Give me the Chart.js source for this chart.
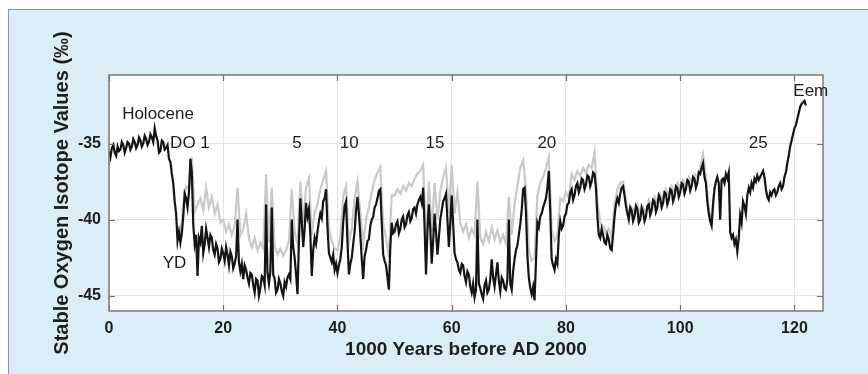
<!DOCTYPE html>
<html>
<head>
<meta charset="utf-8">
<script src="https://cdn.jsdelivr.net/npm/chart.js@4.4.1/dist/chart.umd.min.js"></script>
<style>
  html, body { margin: 0; padding: 0; background: #fff; }
  #wrap { position: relative; width: 868px; height: 374px; overflow: hidden; }
  #panel { position: absolute; left: 8px; top: 9px; width: 880px; height: 380px;
           background: #dbeef8; border-top: 1.5px solid #8d969c; border-left: 1.5px solid #8d969c; }
  #holder { position: absolute; left: 0; top: 0; width: 868px; height: 374px; }
</style>
</head>
<body>
<div id="wrap">
  <div id="panel"></div>
  <div id="holder"><canvas id="chart"></canvas></div>
</div>
<script>
// black record, 0 .. 122 kyr before AD 2000, one value every 0.25 kyr
const blackStart = 0;
const blackStep = 0.25;
const blackValues = [
  // 0 - 10
  -35.5, -35.9, -35.3, -35.1, -35.6, -35.8, -35.2, -35.5, -35.4, -34.9, -35.1, -35.6, -35.3, -34.9, -35.0, -35.4, -35.2, -34.7, -34.9, -35.3,
  -35.1, -34.6, -34.8, -35.2, -35.0, -34.5, -34.7, -35.1, -34.9, -34.4, -34.6, -34.9, -34.0, -34.5, -34.8, -35.6, -35.5, -34.8, -34.9, -35.4,
  // 10 - 20
  -35.3, -35.1, -36.0, -36.2, -37.0, -37.6, -38.8, -39.6, -41.4, -40.8, -41.5, -40.9, -39.8, -38.3, -38.6, -39.2, -38.2, -36.0, -36.9, -40.3,
  -41.6, -41.0, -43.7, -41.2, -41.5, -40.4, -42.2, -41.6, -40.6, -41.2, -41.8, -41.0, -41.2, -42.0, -42.3, -41.6, -41.9, -42.8, -42.6, -41.9,
  // 20 - 30
  -42.2, -42.7, -41.8, -42.3, -43.0, -42.1, -42.4, -43.2, -42.9, -42.4, -40.0, -42.8, -43.4, -42.9, -43.9, -43.0, -43.3, -43.8, -44.2, -43.5,
  -43.6, -44.3, -44.8, -43.9, -44.0, -45.0, -44.5, -43.7, -43.8, -44.3, -39.0, -43.5, -44.2, -43.4, -39.2, -43.6, -43.9, -44.8, -44.6, -43.9,
  // 30 - 40
  -44.2, -44.7, -45.0, -44.1, -44.4, -43.8, -43.6, -43.9, -40.0, -41.8, -42.5, -43.6, -44.9, -41.5, -38.6, -40.1, -41.8, -40.6, -38.9, -39.8,
  -39.3, -41.0, -43.7, -42.0, -41.2, -41.6, -40.8, -40.1, -39.6, -39.9, -38.8, -38.6, -38.0, -40.5, -42.2, -42.5, -42.8, -42.3, -43.3, -42.9,
  // 40 - 50
  -43.5, -43.0, -42.6, -41.8, -40.2, -39.1, -38.8, -41.5, -43.6, -42.9, -42.5, -41.6, -40.8, -39.4, -38.5, -39.6, -41.0, -42.6, -43.9, -42.4,
  -42.0, -41.4, -41.3, -40.4, -40.0, -39.8, -39.2, -39.0, -38.6, -38.1, -38.0, -40.2, -42.3, -42.7, -43.0, -43.8, -44.6, -41.8, -40.2, -40.9,
  // 50 - 60
  -40.8, -40.3, -40.1, -40.9, -40.6, -40.0, -39.8, -40.5, -40.3, -39.7, -39.5, -40.1, -39.9, -39.3, -39.2, -39.6, -39.0, -38.7, -38.5, -38.9,
  -37.9, -40.5, -43.6, -40.8, -39.0, -40.6, -42.9, -41.4, -39.6, -40.8, -42.3, -41.2, -40.0, -39.4, -38.8, -38.6, -38.3, -40.0, -41.8, -40.2,
  // 60 - 70
  -38.4, -40.3, -42.2, -42.6, -42.8, -43.3, -43.5, -42.9, -43.0, -43.7, -44.1, -43.4, -43.6, -44.4, -44.8, -44.2, -45.1, -44.6, -40.0, -44.2,
  -44.5, -44.9, -45.2, -44.3, -44.0, -44.8, -44.6, -43.9, -42.6, -43.8, -44.4, -43.6, -42.8, -44.0, -44.7, -43.8, -44.0, -44.5, -44.6, -43.9,
  // 70 - 80
  -40.0, -44.2, -44.6, -43.4, -42.6, -42.0, -41.7, -41.0, -40.3, -39.4, -38.0, -37.9, -39.5, -42.4, -43.8, -44.5, -44.9, -44.4, -45.3, -42.8,
  -40.2, -40.5, -39.8, -39.6, -39.2, -38.9, -38.6, -37.9, -36.8, -39.5, -42.6, -43.0, -43.3, -42.6, -42.9, -41.0, -40.1, -40.6, -40.4, -39.8,
  // 80 - 90
  -39.6, -39.0, -38.9, -38.2, -38.0, -38.7, -38.4, -37.8, -37.6, -38.2, -37.9, -37.3, -37.4, -38.0, -37.7, -37.1, -37.2, -37.8, -37.5, -36.9,
  -37.0, -37.9, -39.8, -41.0, -41.2, -40.6, -41.0, -41.5, -41.6, -41.0, -41.3, -41.9, -42.0, -41.0, -39.8, -39.0, -38.6, -38.9, -38.3, -37.9,
  // 90 - 100
  -37.8, -38.4, -39.1, -39.6, -40.0, -39.2, -39.4, -40.1, -39.8, -39.1, -39.3, -40.2, -40.0, -39.2, -39.5, -40.1, -39.8, -39.1, -39.0, -39.7,
  -39.4, -38.7, -38.8, -39.5, -39.2, -38.4, -38.6, -39.2, -38.9, -38.2, -38.3, -39.0, -38.7, -38.0, -38.1, -38.8, -38.5, -37.8, -37.9, -38.5,
  // 100 - 110
  -38.2, -37.6, -37.7, -38.3, -38.0, -37.4, -37.5, -38.1, -37.8, -37.2, -37.3, -37.9, -37.6, -36.9, -37.0, -36.6, -36.3, -37.2, -37.6, -38.8,
  -39.6, -40.1, -40.4, -39.0, -38.0, -37.5, -37.2, -37.6, -40.0, -37.4, -37.3, -37.6, -37.0, -37.3, -36.9, -40.8, -41.2, -41.0, -41.6, -41.3,
  // 110 - 120
  -42.1, -41.2, -39.7, -40.2, -38.8, -39.1, -39.6, -38.4, -37.9, -38.2, -37.6, -37.9, -37.3, -37.5, -37.1, -37.4, -37.2, -37.0, -36.8, -37.2,
  -38.0, -38.5, -38.7, -38.2, -38.4, -38.1, -38.0, -38.4, -38.2, -37.8, -37.6, -38.0, -37.8, -37.2, -36.9, -36.3, -35.8, -35.2, -34.8, -34.4,
  // 120 - 122
  -34.0, -33.8, -33.4, -33.0, -32.6, -32.4, -32.3, -32.2, -32.5
];

// grey record, 12 .. 106 kyr, one value every 0.5 kyr
const greyStart = 12;
const greyStep = 0.5;
const greyValues = [
  -41.0, -41.0, -39.0, -37.8, -38.0, -35.9, -39.5, -39.0, -38.6, -39.4, -37.9, -39.2, -38.5, -39.6, -39.0, -40.2,
  -40.0, -40.8, -40.3, -41.0, -40.4, -37.9, -41.0, -40.6, -39.6, -41.2, -41.8, -41.2, -42.0, -41.5, -41.9, -37.0, -41.5, -37.9, -41.8, -42.3,
  -41.9, -42.4, -42.0, -41.4, -38.0, -40.8, -41.6, -37.5, -40.2, -37.9, -37.3, -41.0, -39.5, -39.0, -38.0, -37.4, -36.8, -40.6, -41.4, -41.9,
  -42.0, -41.2, -38.5, -37.8, -41.5, -40.6, -38.6, -37.5, -39.6, -41.6, -40.0, -39.2, -38.2, -37.4, -36.9, -36.5, -40.3, -41.2, -42.5, -38.4,
  -38.4, -38.0, -38.3, -37.8, -38.1, -37.6, -37.8, -37.3, -37.0, -36.8, -36.4, -41.5, -37.5, -40.8, -37.6, -40.0, -38.2, -37.2, -36.6, -39.6,
  -36.4, -39.6, -38.2, -40.2, -40.8, -40.3, -41.2, -40.6, -41.0, -37.5, -41.2, -41.6, -40.8, -41.4, -40.5, -41.3, -40.7, -41.5, -41.0, -41.6,
  -38.5, -41.0, -39.0, -37.8, -36.6, -36.1, -38.0, -42.0, -42.7, -42.5, -38.4, -37.6, -37.2, -36.6, -35.9, -40.6, -41.4, -41.0, -38.6, -38.8,
  -38.2, -38.6, -37.0, -37.4, -36.8, -37.1, -36.6, -36.9, -36.4, -36.6, -35.6, -38.8, -40.2, -40.4, -40.9, -40.6, -41.2, -39.0, -38.0, -37.6,
  -37.5, -38.8, -39.7, -39.2, -39.5, -39.0, -39.7, -39.2, -39.5, -38.7, -39.1, -38.5, -38.9, -38.3, -38.6, -38.0, -38.4, -37.8, -38.2, -37.6,
  -37.9, -37.4, -37.7, -37.2, -37.5, -37.0, -37.2, -36.6, -35.7, -37.2, -39.3, -40.1, -37.8
];

const xTicks = [0, 20, 40, 60, 80, 100, 120];
const yTicks = [-45, -40, -35];
const xTitle = '1000 Years before AD 2000';
const yTitle = 'Stable Oxygen Isotope Values (\u2030)';

// text labels inside the plot: [text, age, value]
const labels = [
  ['Holocene', 2.3, -33.1],
  ['DO 1', 10.7, -35.0],
  ['5', 32.1, -35.0],
  ['10', 40.4, -35.0],
  ['15', 55.4, -35.0],
  ['20', 75.0, -35.0],
  ['25', 112.0, -35.0],
  ['Eem', 119.8, -31.6],
  ['YD', 9.4, -42.85]
];

const FONT = "'Liberation Sans', Arial, Helvetica, sans-serif";

function toPoints(start, step, values) {
  return values.map((v, i) => ({ x: start + i * step, y: v }));
}

const frame = {
  id: 'frame',
  beforeDraw(chart) {
    const { ctx, chartArea: a } = chart;
    ctx.save();
    ctx.fillStyle = '#ffffff';
    ctx.fillRect(a.left, a.top, a.width, a.height);
    ctx.restore();
  },
  afterDraw(chart) {
    const { ctx, chartArea: a, scales: { x, y } } = chart;
    ctx.save();
    ctx.strokeStyle = '#6f6f6f';
    ctx.lineWidth = 1.2;
    ctx.beginPath();
    xTicks.forEach(v => {
      const px = Math.round(x.getPixelForValue(v)) + 0.5;
      ctx.moveTo(px, a.bottom); ctx.lineTo(px, a.bottom - 6);
      ctx.moveTo(px, a.top); ctx.lineTo(px, a.top + 6);
    });
    yTicks.forEach(v => {
      const py = Math.round(y.getPixelForValue(v)) + 0.5;
      ctx.moveTo(a.left, py); ctx.lineTo(a.left + 6, py);
      ctx.moveTo(a.right, py); ctx.lineTo(a.right - 6, py);
    });
    ctx.stroke();
    ctx.strokeStyle = '#7a7a7a';
    ctx.lineWidth = 1.5;
    ctx.strokeRect(a.left, a.top, a.width, a.height);

    ctx.fillStyle = '#1c1c1c';
    ctx.font = '17px ' + FONT;
    ctx.textBaseline = 'middle';
    ctx.textAlign = 'left';
    labels.forEach(([t, ax, vy]) => {
      ctx.fillText(t, x.getPixelForValue(ax), y.getPixelForValue(vy));
    });
    ctx.restore();
  }
};

new Chart(document.getElementById('chart'), {
  type: 'line',
  data: {
    datasets: [
      {
        label: 'black',
        data: toPoints(blackStart, blackStep, blackValues),
        borderColor: '#141414',
        borderWidth: 2.2,
        pointRadius: 0,
        tension: 0
      },
      {
        label: 'grey',
        data: toPoints(greyStart, greyStep, greyValues),
        borderColor: '#c9c9c9',
        borderWidth: 2.2,
        pointRadius: 0,
        tension: 0
      }
    ]
  },
  options: {
    responsive: true,
    maintainAspectRatio: false,
    animation: false,
    layout: { padding: { top: 75, right: 45, left: 0, bottom: 0 } },
    plugins: { legend: { display: false }, tooltip: { enabled: false } },
    scales: {
      x: {
        type: 'linear',
        min: 0,
        max: 125,
        afterBuildTicks: s => { s.ticks = xTicks.map(v => ({ value: v })); },
        afterFit: s => { s.height = 63; },
        ticks: { padding: 8, maxRotation: 0, color: '#1e1e1e',
                 font: { family: FONT, size: 16, weight: 'bold' } },
        grid: { color: '#e4e4e4', drawTicks: false },
        border: { display: false },
        title: { display: true, text: xTitle, color: '#1e1e1e',
                 font: { family: FONT, size: 19, weight: 'bold' },
                 padding: { top: 0, bottom: 13 } }
      },
      y: {
        min: -46,
        max: -30.5,
        afterBuildTicks: s => { s.ticks = yTicks.map(v => ({ value: v })); },
        afterFit: s => { s.width = 109; },
        ticks: { padding: 8, color: '#1e1e1e',
                 font: { family: FONT, size: 16, weight: 'bold' } },
        grid: { color: '#e4e4e4', drawTicks: false },
        border: { display: false },
        title: { display: true, text: yTitle, color: '#1e1e1e',
                 font: { family: FONT, size: 20, weight: 'bold' },
                 padding: { top: 50, bottom: 0 } }
      }
    }
  },
  plugins: [frame]
});
</script>
</body>
</html>
